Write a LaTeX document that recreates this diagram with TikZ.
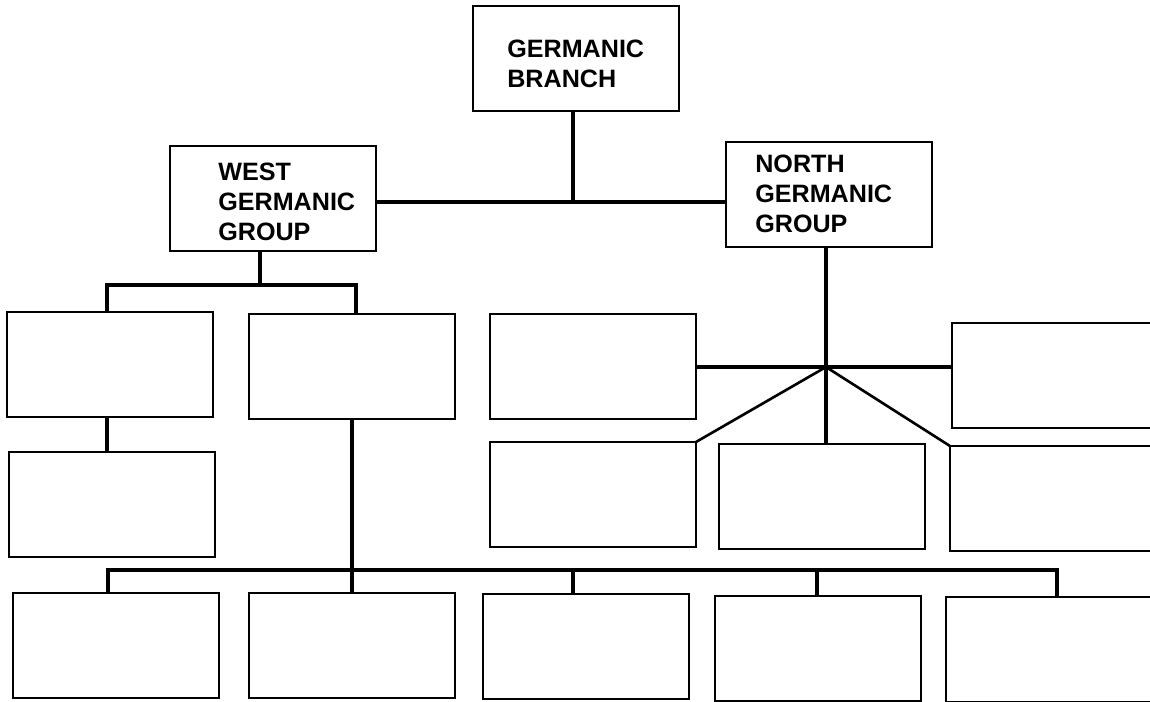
\documentclass[tikz,border=0pt]{standalone}
\usepackage{fontspec}
\setmainfont{Liberation Sans}
\usepackage{tikz}
\usetikzlibrary{calc}

\begin{document}
\begin{tikzpicture}[x=0.02cm,y=-0.02cm,
	gbox/.style={draw=black,line width=1.1pt,inner sep=0pt,outer sep=0pt,anchor=north west,
		minimum width=4.12cm,minimum height=2.1cm},
	gtext/.style={font=\fontsize{14.3}{17}\selectfont\bfseries,align=left,inner sep=0pt,anchor=base west},
	gline/.style={draw=black,line width=1.9pt}]
	\clip (0,0) rectangle (1150,701);
	% upper boxes
	\node[gbox] (branch) at (473,6) {};
	\node[gbox] (west) at (170,146) {};
	\node[gbox] (north) at (726,142) {};
	\node[gtext] (branchtxt) at (507,87) {GERMANIC\\BRANCH};
	\node[gtext] (westtxt) at (218,240) {WEST\\GERMANIC\\GROUP};
	\node[gtext] (northtxt) at (755,232) {NORTH\\GERMANIC\\GROUP};
	% west side
	\node[gbox] (w1) at (7,312) {};
	\node[gbox] (w2) at (249,314) {};
	\node[gbox] (w3) at (9,452) {};
	% north side
	\node[gbox] (n1) at (490,314) {};
	\node[gbox] (n2) at (952,323) {};
	\node[gbox] (n3) at (490,442) {};
	\node[gbox] (n4) at (719,444) {};
	\node[gbox] (n5) at (950,446) {};
	% bottom row
	\node[gbox] (b1) at (13,593) {};
	\node[gbox] (b2) at (249,593) {};
	\node[gbox] (b3) at (483,594) {};
	\node[gbox] (b4) at (715,596) {};
	\node[gbox] (b5) at (946,597) {};
	% junctions
	\coordinate (top) at (573,202);
	\coordinate (wj) at (260,285);
	\coordinate (hub) at (826,367);
	\coordinate (bj) at (352,570);
	% connectors
	\draw[gline] (branch.south -| top) -- (top);
	\draw[gline] (west.east |- top) -- (north.west |- top);
	\draw[gline] (west.south -| wj) -- (wj);
	\draw[gline] (w1.north -| 107,0) -- (107,285) -- (356,285) -- (w2.north -| 356,0);
	\draw[gline] (w1.south -| 107,0) -- (w3.north -| 107,0);
	\draw[gline] (w2.south -| bj) -- (bj);
	\draw[gline] (b1.north -| 108,0) -- (108,570) -- (1057,570) -- (b5.north -| 1057,0);
	\draw[gline] (bj) -- (b2.north -| bj);
	\draw[gline] (573,570) -- (b3.north -| 573,0);
	\draw[gline] (817,570) -- (b4.north -| 817,0);
	\draw[gline] (north.south -| hub) -- (hub);
	\draw[gline] (n1.east |- hub) -- (n2.west |- hub);
	\draw[gline] (hub) -- (n4.north -| hub);
	\draw[black,line width=1.5pt] (n3.north east) -- (hub) -- (n5.north west);
\end{tikzpicture}
\end{document}
